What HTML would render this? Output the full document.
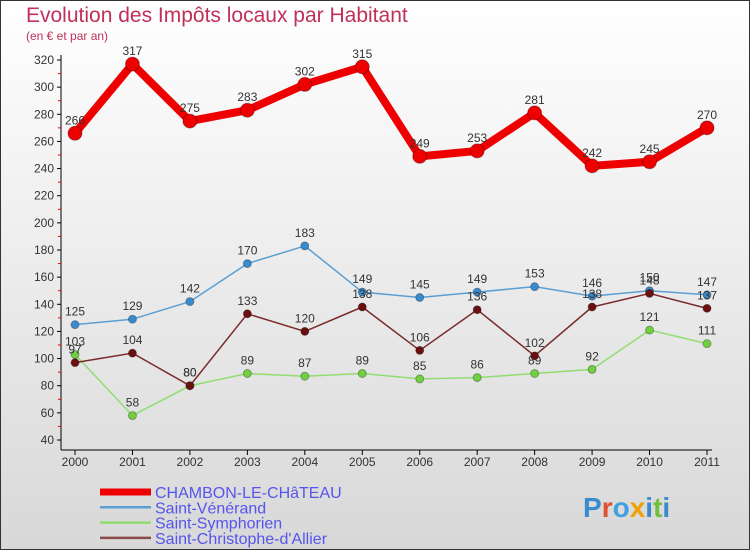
<!DOCTYPE html>
<html><head><meta charset="utf-8"><style>
body{margin:0;width:750px;height:550px;overflow:hidden;font-family:"Liberation Sans",sans-serif}
</style></head><body>
<svg width="750" height="550" xmlns="http://www.w3.org/2000/svg">
<defs><linearGradient id="bg" x1="0" y1="0" x2="0" y2="1"><stop offset="0" stop-color="#ffffff"/><stop offset="1" stop-color="#d8d8d8"/></linearGradient></defs>
<rect x="0.5" y="0.5" width="749" height="549" fill="url(#bg)" stroke="#333"/>
<text x="26" y="22" font-size="21" fill="#c0305a">Evolution des Impôts locaux par Habitant</text>
<text x="26" y="40" font-size="12" fill="#c0305a">(en € et par an)</text>
<g id="axes"></g>
<g id="series"></g>
<g id="legend"></g>
<text x="583" y="517" font-size="28" font-weight="bold" fill="#3a8ad0">P<tspan fill="#e05030">r</tspan><tspan fill="#40a0e0">o</tspan><tspan fill="#f0a000">x</tspan><tspan fill="#3a8ad0">i</tspan><tspan fill="#70c040">t</tspan><tspan fill="#3a8ad0">i</tspan></text>
</svg>
<script>
const years=[2000,2001,2002,2003,2004,2005,2006,2007,2008,2009,2010,2011];
const chambon=[266,317,275,283,302,315,249,253,281,242,245,270];
const venerand=[125,129,142,170,183,149,145,149,153,146,150,147];
const symphorien=[103,58,80,89,87,89,85,86,89,92,121,111];
const christophe=[97,104,80,133,120,138,106,136,102,138,148,137];
const yTicks=[40,60,80,100,120,140,160,180,200,220,240,260,280,300,320];
const seriesNames=["CHAMBON-LE-CHâTEAU","Saint-Vénérand","Saint-Symphorien","Saint-Christophe-d'Allier"];
const NS="http://www.w3.org/2000/svg";
const X=i=>75+i*(632/11);
const Y=v=>440-(v-40)*(380/280);
function mk(tag,attrs,parent){const e=document.createElementNS(NS,tag);for(const k in attrs)e.setAttribute(k,attrs[k]);parent.appendChild(e);return e;}
const ax=document.getElementById('axes');
let l=mk('line',{x1:61,y1:55,x2:61,y2:450,stroke:'#000'},ax);


l=mk('line',{x1:61,y1:450,x2:712,y2:450,stroke:'#000'},ax);


yTicks.forEach(v=>{
 mk('line',{x1:57,y1:Y(v),x2:61,y2:Y(v),stroke:'#000'},ax);
 if(v<320)mk('line',{x1:58,y1:Y(v+10),x2:61,y2:Y(v+10),stroke:'#e00'},ax);
 const t=mk('text',{x:54,y:Y(v)+4,'font-size':12,fill:'#333','text-anchor':'end'},ax);t.textContent=v;
 
 
});
years.forEach((y,i)=>{
 mk('line',{x1:X(i),y1:450,x2:X(i),y2:455,stroke:'#000'},ax);
 const t=mk('text',{x:X(i),y:466,'font-size':12,fill:'#333','text-anchor':'middle'},ax);t.textContent=y;
 
 
});
const sg=document.getElementById('series');
function draw(data,color,fill,w,r,name){
 const g=mk('g',{},sg);
 
 
 mk('polyline',{points:data.map((v,i)=>X(i)+','+Y(v)).join(' '),fill:'none',stroke:color,'stroke-width':w,'stroke-linejoin':'round'},g);
 data.forEach((v,i)=>{
  const c=mk('circle',{cx:X(i),cy:Y(v),r:r,fill:fill,stroke:'rgba(0,0,0,0.3)'},g);
  
  
  const t=mk('text',{x:X(i),y:Y(v)-9,'font-size':12,fill:'#333','text-anchor':'middle'},g);t.textContent=v;
  
  
 });
}
draw(venerand,'#5a9fd4','#3a8ad0',1.5,4,'series-saint-venerand');
draw(symphorien,'#90dd70','#70d040',1.5,4,'series-saint-symphorien');
draw(christophe,'#7a2a2a','#6a1010',1.5,4,'series-saint-christophe');
draw(chambon,'#ee0000','#ee0000',8,7,'series-chambon');
const lg=document.getElementById('legend');
const cols=['#ee0000','#5a9fd4','#90dd70','#8a4a4a'];const ws=[7,2.5,2.5,2.5];
seriesNames.forEach((n,i)=>{
 const y=492+i*15.3;
 const g=mk('g',{},lg);
 
 
 mk('line',{x1:100,y1:y,x2:151,y2:y,stroke:cols[i],'stroke-width':ws[i]},g);
 const t=mk('text',{x:155,y:y+6,'font-size':16,fill:'#5555ee'},g);t.textContent=n;
});
</script>
</body></html>
